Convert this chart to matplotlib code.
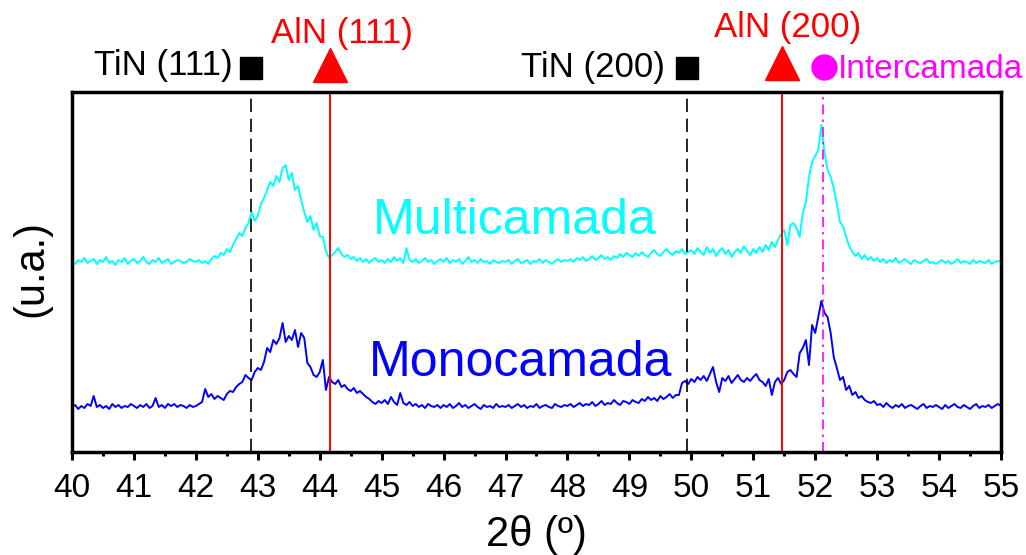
import numpy as np
import matplotlib
matplotlib.use("Agg")
import matplotlib.pyplot as plt
from matplotlib.ticker import MultipleLocator

plt.rcParams['font.family'] = ['Liberation Sans', 'DejaVu Sans']

# 2theta grid, 0.05 deg step from 40 to 55
two_theta = np.round(np.arange(40, 55.001, 0.05), 2)

# intensity (a.u., offset curves)
multicamada = [
    190, 188, 192, 190, 194, 189, 191, 193, 188, 192, 190, 195, 189, 191, 187, 192, 190, 194, 188, 191,
    193, 189, 191, 195, 190, 188, 192, 190, 194, 189, 191, 193, 188, 190, 192, 191, 189, 190, 193, 191,
    190, 192, 189, 191, 188, 193, 196, 194, 199, 197, 203, 200, 207, 213, 219, 216, 224, 229, 240, 231,
    236, 248, 254, 262, 270, 266, 276, 270, 284, 287, 272, 279, 262, 266, 252, 240, 230, 236, 222, 229,
    216, 215, 201, 194, 197, 200, 204, 198, 195, 197, 193, 195, 191, 194, 190, 193, 189, 192, 194, 190,
    192, 189, 193, 190, 195, 191, 194, 189, 204, 192, 190, 193, 189, 191, 194, 190, 192, 188, 191, 193,
    190, 194, 189, 192, 190, 193, 188, 191, 195, 190, 192, 189, 193, 190, 191, 188, 192, 190, 189, 191,
    190, 192, 188, 191, 193, 189, 190, 192, 188, 191, 190, 193, 189, 192, 190, 188, 191, 193, 190, 192,
    191, 193, 190, 194, 192, 195, 191, 193, 196, 192, 194, 197, 193, 195, 192, 196, 194, 198, 195, 199,
    197, 195, 199, 196, 200, 197, 195, 199, 202, 198, 196, 200, 203, 199, 197, 201, 199, 203, 198, 200,
    202, 198, 204, 200, 197, 205, 199, 203, 196, 201, 204, 198, 202, 195, 200, 203, 199, 206, 201, 197,
    203, 199, 205, 200, 207, 202, 210, 205, 212, 218, 222, 207, 227, 229, 224, 215, 239, 250, 275, 290,
    296, 302, 327, 300, 282, 275, 264, 248, 230, 226, 215, 206, 200, 196, 199, 193, 197, 192, 195, 191,
    194, 190, 193, 189, 192, 190, 194, 189, 191, 193, 190, 188, 192, 190, 189, 191, 193, 189, 190, 188,
    190, 192, 189, 191, 188, 190, 193, 189, 191, 190, 188, 192, 189, 191, 190, 189, 192, 188, 190, 191,
    190,
]

monocamada = [
    45, 47, 43, 46, 44, 48, 46, 56, 45, 47, 44, 46, 43, 48, 45, 47, 44, 46, 45, 48,
    46, 44, 47, 45, 48, 44, 46, 54, 45, 47, 44, 48, 46, 48, 45, 47, 46, 44, 47, 45,
    46, 48, 50, 63, 55, 58, 53, 56, 54, 52, 58, 61, 60, 65, 68, 70, 77, 74, 72, 80,
    84, 82, 90, 104, 100, 112, 108, 114, 129, 110, 116, 112, 122, 105, 119, 114, 89, 85, 77, 75,
    80, 92, 62, 75, 70, 68, 72, 65, 67, 63, 61, 64, 59, 61, 58, 55, 53, 50, 48, 51,
    49, 52, 48, 55, 50, 47, 59, 49, 47, 50, 46, 48, 45, 47, 44, 48, 46, 45, 47, 44,
    47, 45, 48, 44, 46, 49, 45, 47, 44, 46, 48, 45, 43, 47, 45, 46, 44, 48, 45, 46,
    45, 47, 44, 46, 48, 45, 47, 44, 46, 45, 48, 44, 46, 47, 45, 44, 48, 46, 45, 47,
    46, 48, 45, 47, 49, 46, 48, 47, 50, 46, 48, 51, 47, 49, 48, 52, 49, 47, 51, 50,
    48, 52, 50, 49, 53, 51, 55, 52, 54, 51, 56, 53, 55, 58, 54, 57, 57, 69, 71, 68,
    73, 70, 75, 72, 76, 71, 78, 85, 70, 60, 74, 71, 76, 69, 73, 77, 72, 70, 74, 71,
    75, 78, 72, 70, 66, 73, 57, 70, 74, 68, 72, 80, 82, 78, 75, 99, 104, 112, 87, 127,
    119, 135, 151, 139, 135, 119, 95, 84, 72, 75, 62, 66, 57, 60, 54, 56, 52, 50, 49, 51,
    47, 48, 45, 49, 46, 44, 47, 45, 48, 44, 46, 47, 45, 43, 46, 48, 44, 46, 45, 47,
    45, 43, 47, 44, 46, 48, 45, 44, 47, 45, 43, 46, 48, 44, 46, 45, 47, 44, 46, 48,
    46,
]

# reference positions (2theta)
tin_peaks = [42.89, 49.93]
aln_peaks = [44.16, 51.46]
inter_peak = 52.12
peak_labels = ["TiN (111)", "AlN (111)", "TiN (200)", "AlN (200)"]

fig = plt.figure(figsize=(10.26, 5.55), dpi=100)
ax = fig.add_axes([0.0702, 0.1856, 0.9054, 0.6486])

ax.plot(two_theta, multicamada, color='#00FFFF', lw=1.4)
ax.plot(two_theta, monocamada, color='#0000FF', lw=1.4)

for p in tin_peaks:
    ax.axvline(p, color='black', lw=1.2, ls=(0, (8, 4)))
for p in aln_peaks:
    ax.axvline(p, color='red', lw=1.4)
ax.axvline(inter_peak, color='#FF00FF', lw=1.2, ls=(0, (6, 3, 1.5, 3)))

ax.text(47.15, 231, "Multicamada", color='#00FFFF', fontsize=36, ha='center', va='center')
ax.text(47.25, 89, "Monocamada", color='#0000FF', fontsize=36, ha='center', va='center')

# markers and labels above the frame
trans = ax.get_xaxis_transform()
ax.plot(tin_peaks, [1.067, 1.067], 's', color='black', ms=16, transform=trans, clip_on=False)
ax.plot(aln_peaks[0], 1.075, '^', color='red', ms=25, transform=trans, clip_on=False)
ax.plot(aln_peaks[1], 1.082, '^', color='red', ms=25, transform=trans, clip_on=False)
ax.plot(inter_peak + 0.03, 1.069, 'o', color='#FF00FF', ms=18, transform=trans, clip_on=False)

ax.text(42.6, 1.047, peak_labels[0], transform=trans, fontsize=25, ha='right', va='baseline')
ax.text(44.36, 1.136, peak_labels[1], transform=trans, fontsize=25, color='red', ha='center', va='baseline')
ax.text(49.58, 1.042, peak_labels[2], transform=trans, fontsize=25, ha='right', va='baseline')
ax.text(51.56, 1.153, peak_labels[3], transform=trans, fontsize=25, color='red', ha='center', va='baseline')
ax.text(52.37, 1.039, "Intercamada", transform=trans, fontsize=24, color='#FF00FF', ha='left', va='baseline')

ax.set_xlim(40, 55)
ax.set_ylim(0, 360)
ax.xaxis.set_major_locator(MultipleLocator(1))
ax.xaxis.set_minor_locator(MultipleLocator(0.5))
ax.tick_params(axis='x', which='major', direction='out', length=6, width=2.2, labelsize=24, pad=9)
ax.tick_params(axis='x', which='minor', direction='out', length=3, width=2.2)
ax.set_yticks([])
for s in ax.spines.values():
    s.set_linewidth(2.5)

ax.set_xlabel("2θ (º)", fontsize=30, labelpad=8)
fig.text(0.031, 0.517, "(u.a.)", rotation=90, fontsize=30, ha='center', va='center')

fig.savefig("out.png", dpi=100)
